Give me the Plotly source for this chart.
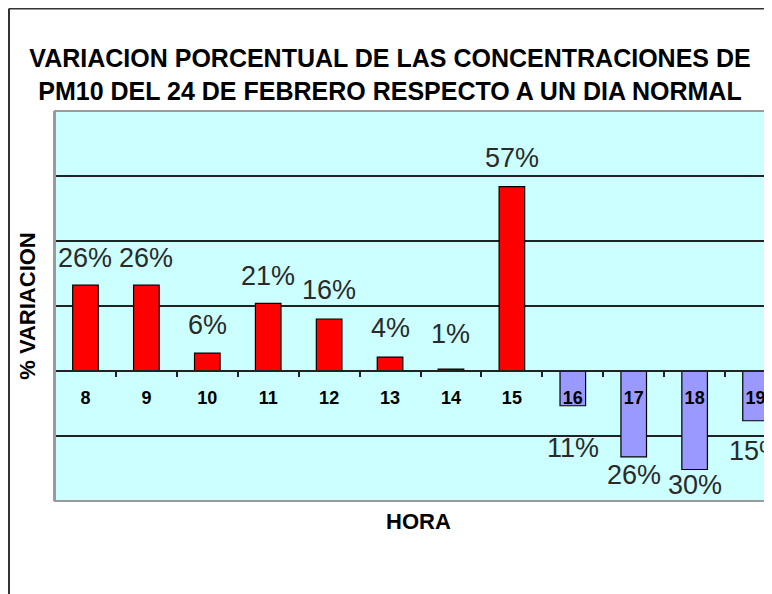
import plotly.graph_objects as go

# datos: variacion porcentual de PM10 por hora (24 de febrero vs dia normal)
horas = ["8", "9", "10", "11", "12", "13", "14", "15", "16", "17", "18", "19"]
variacion = [26.4, 26.4, 5.5, 20.8, 16.0, 4.3, 0.6, 56.7, -10.7, -26.4, -30.3, -15.3]

# separacion en pixeles de cada etiqueta respecto al extremo de su barra
label_gap = [27, 27, 28, 27, 29, 29, 35, 29, -42, -18, -16, -30]

# la pagina tiene 8px de margen en el body: todo se desplaza 8px
OFF = 8
W, H = 772 - OFF, 594 - OFF
L, R, T = 55 - OFF, 0, 111 - OFF
B = H - (501 - OFF)

sans = "Liberation Sans, Arial, sans-serif"

colors = ["#FF0000" if v >= 0 else "#9999FF" for v in variacion]

fig = go.Figure(go.Bar(
    x=horas, y=variacion,
    marker=dict(color=colors, line=dict(color="#000000", width=1.2)),
    width=0.42,
    hoverinfo="x+y",
))

for i, (v, g) in enumerate(zip(variacion, label_gap)):
    fig.add_annotation(
        x=i, y=v, text=f"{abs(round(v))}%",
        showarrow=False, yshift=g, yanchor="middle",
        font=dict(family=sans, size=27, color="#2a2a2a"),
    )

fig.update_layout(
    width=W, height=H,
    margin=dict(l=L, r=R, t=T, b=B),
    paper_bgcolor="#FFFFFF",
    plot_bgcolor="#CCFFFF",
    showlegend=False,
    title=dict(
        text="VARIACION PORCENTUAL DE LAS CONCENTRACIONES DE<br>PM10 DEL 24 DE FEBRERO RESPECTO A UN DIA NORMAL",
        x=(390 - OFF) / W, xanchor="center", y=1 - (67 - OFF) / H, yanchor="middle",
        font=dict(family=sans, size=25, color="#000000", weight="bold"),
    ),
)

fig.update_xaxes(
    type="category",
    range=[-0.5, 11.27],
    anchor="free", position=1 / 3,
    showline=True, linecolor="#222222", linewidth=2,
    ticks="outside", tickson="boundaries", ticklen=5, tickwidth=2, tickcolor="#222222",
    ticklabelstandoff=10,
    tickfont=dict(family=sans, size=18, color="#000000", weight="bold"),
    showgrid=False, zeroline=False,
)

fig.update_yaxes(
    range=[-40, 80], dtick=20,
    showticklabels=False, ticks="",
    showgrid=True, gridcolor="#222222", gridwidth=2,
    zeroline=False,
    showline=True, linecolor="#9a9a9a", linewidth=2,
    title=dict(text="% VARIACION", standoff=11,
               font=dict(family=sans, size=22, color="#000000", weight="bold")),
)

px_x = lambda p: (p - OFF - L) / (W - L - R)
px_y = lambda p: (H - B - (p - OFF)) / (H - T - B)

# titulo del eje x
fig.add_annotation(
    text="HORA", xref="paper", yref="paper",
    x=px_x(418), y=px_y(521),
    showarrow=False, yanchor="middle",
    font=dict(family=sans, size=22, color="#000000", weight="bold"),
)

# borde del area de trazado
fig.add_shape(type="rect", xref="x domain", yref="y domain", x0=0, x1=1.01, y0=0, y1=1,
              line=dict(color="#9a9a9a", width=2), layer="above")

# borde exterior del grafico (recortado)
fig.add_shape(type="line", xref="paper", yref="paper",
              x0=px_x(9), x1=px_x(9), y0=px_y(8.5), y1=px_y(600),
              line=dict(color="#333333", width=2))
fig.add_shape(type="line", xref="paper", yref="paper",
              x0=px_x(9), x1=px_x(780), y0=px_y(8.5), y1=px_y(8.5),
              line=dict(color="#333333", width=2))

fig.write_html("out.html")
